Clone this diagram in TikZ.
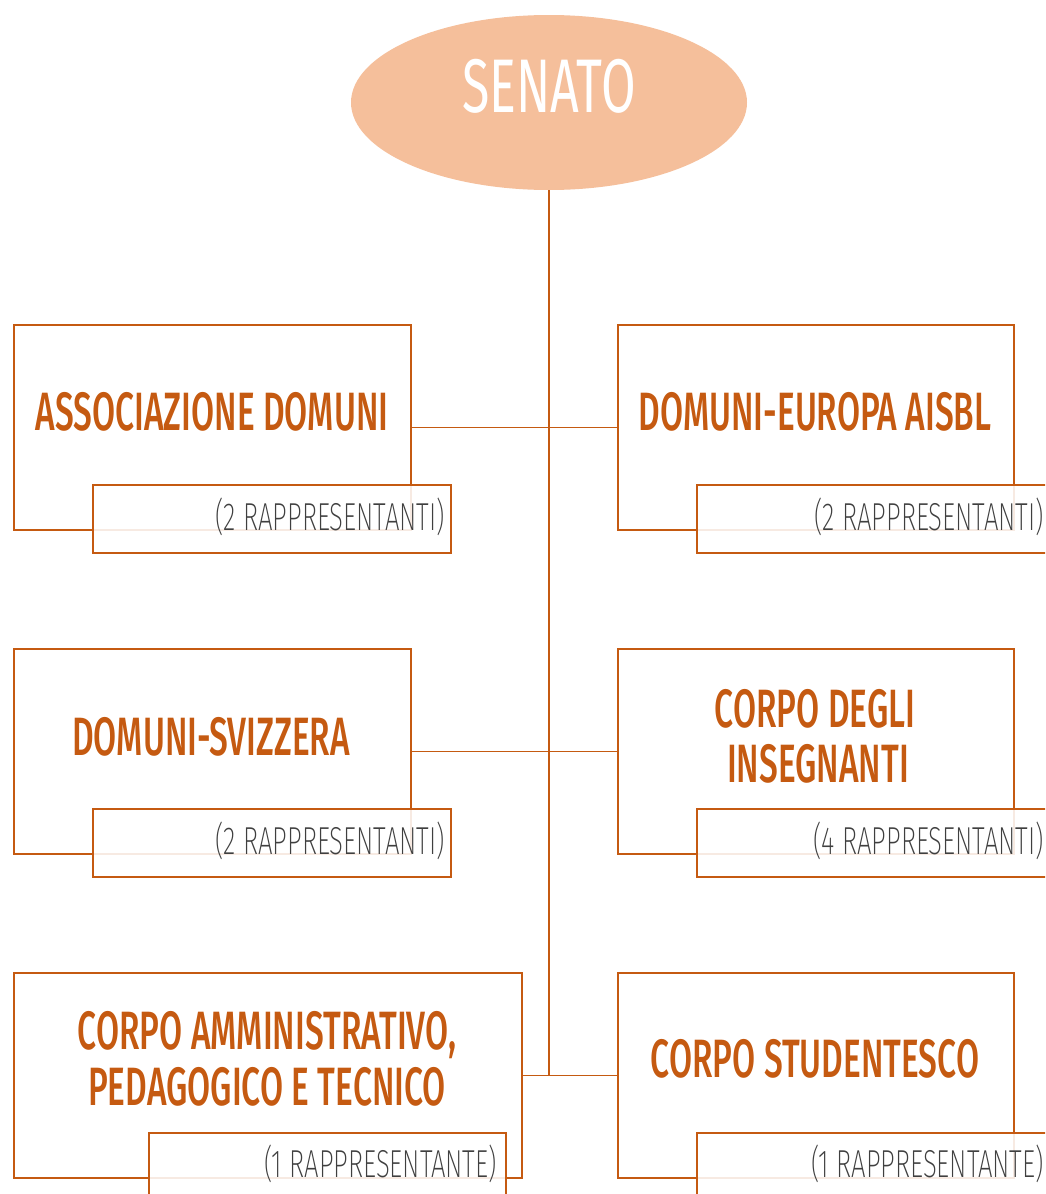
\documentclass[tikz,border=0pt]{standalone}
\usepackage{fontspec}
\usetikzlibrary{shapes.geometric}
\newfontfamily\headfont[FakeStretch=0.62]{Fira Sans Medium}
\newfontfamily\titlefont[FakeStretch=0.66]{Fira Sans}
\newfontfamily\repfont[FakeStretch=0.66]{Fira Sans ExtraLight}
\definecolor{rust}{HTML}{C55A11}
\definecolor{peach}{HTML}{F5BF9B}
\definecolor{greytext}{HTML}{3F3F3F}
\begin{document}
\begin{tikzpicture}[x=1pt,y=-1pt,
  mainbox/.style={draw=rust, line width=2pt, inner sep=0pt, anchor=north west},
  repbox/.style={draw=rust, line width=2.4pt, fill=white, fill opacity=0.88, draw opacity=1, inner sep=0pt, anchor=north west},
  headtext/.style={text=rust, font=\headfont\fontsize{54}{56}\selectfont, inner sep=0pt, anchor=base},
  reptext/.style={text=greytext, font=\repfont\fontsize{39}{40}\selectfont, inner sep=0pt, anchor=base east},
  link/.style={draw=rust, line width=1.3pt}]
\useasboundingbox (0,0) rectangle (1045,1194);
\clip (0,0) rectangle (1045,1194);
% top ellipse
\node[ellipse, fill=peach, minimum width=396, minimum height=175, inner sep=0pt] (senato) at (549,102.5) {};
\node[text=white, font=\titlefont\fontsize{76}{78}\selectfont, inner sep=0pt, anchor=base] (senatotext) at (549,112) {SENATO};
\coordinate (trunkend) at (549,1075);
\draw[link] (senato.south) -- (trunkend);
% row 1
\node[mainbox, minimum width=397, minimum height=205] (b1) at (13,324) {};
\node[mainbox, minimum width=396, minimum height=205] (b2) at (617,324) {};
\draw[link] (b1.east) -- (b2.west);
\node[repbox, minimum width=358, minimum height=68] (r1) at (92,484) {};
\node[repbox, minimum width=400, minimum height=68] (r2) at (696,484) {};
\node[headtext] (t1) at (212,430) {ASSOCIAZIONE DOMUNI};
\node[headtext] (t2) at (815,430) {DOMUNI-EUROPA AISBL};
\node[reptext] (p1) at (445,530) {(2 RAPPRESENTANTI)};
\node[reptext] (p2) at (1044,530) {(2 RAPPRESENTANTI)};
% row 2
\node[mainbox, minimum width=397, minimum height=205] (b3) at (13,648) {};
\node[mainbox, minimum width=396, minimum height=205] (b4) at (617,648) {};
\draw[link] (b3.east) -- (b4.west);
\node[repbox, minimum width=358, minimum height=68] (r3) at (92,808) {};
\node[repbox, minimum width=400, minimum height=68] (r4) at (696,808) {};
\node[headtext] (t3) at (211,755) {DOMUNI-SVIZZERA};
\node[headtext] (t4a) at (815,727) {CORPO DEGLI};
\node[headtext] (t4b) at (818,782) {INSEGNANTI};
\node[reptext] (p3) at (445,854) {(2 RAPPRESENTANTI)};
\node[reptext] (p4) at (1044,854) {(4 RAPPRESENTANTI)};
% row 3
\node[mainbox, minimum width=508, minimum height=205] (b5) at (13,972) {};
\node[mainbox, minimum width=396, minimum height=205] (b6) at (617,972) {};
\draw[link] (b5.east) -- (b6.west);
\node[repbox, minimum width=357, minimum height=90] (r5) at (148,1132) {};
\node[repbox, minimum width=400, minimum height=90] (r6) at (696,1132) {};
\node[headtext] (t5a) at (267,1049) {CORPO AMMINISTRATIVO,};
\node[headtext] (t5b) at (267,1105) {PEDAGOGICO E TECNICO};
\node[headtext] (t6) at (815,1077) {CORPO STUDENTESCO};
\node[reptext] (p5) at (497,1177) {(1 RAPPRESENTANTE)};
\node[reptext] (p6) at (1044,1177) {(1 RAPPRESENTANTE)};
\end{tikzpicture}
\end{document}
